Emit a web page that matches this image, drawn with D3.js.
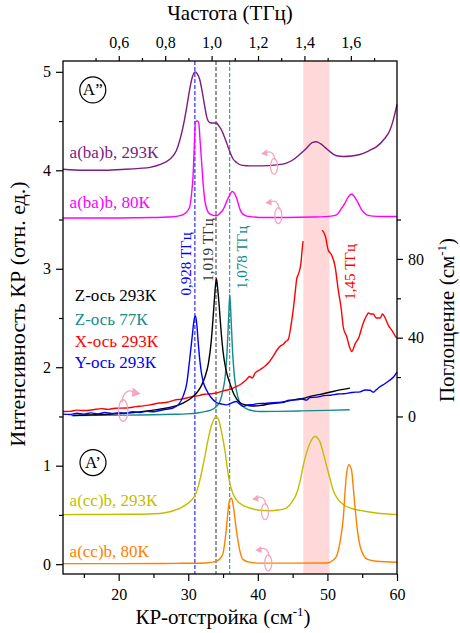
<!DOCTYPE html>
<html>
<head>
<meta charset="utf-8">
<script src="https://cdn.jsdelivr.net/npm/d3@7"></script>
<style>
  body { margin: 0; background: #fff; }
</style>
</head>
<body>
<div id="chart"></div>
<script>
// spectra, [shift cm-1, value]
// Raman (left axis)
var abb293 = [[12,4.01],[15,4.0],[18,4.0],[21,4.01],[23,4.02],[24.5,4.03],[26,4.06],[27.3,4.11],[28.3,4.2],[29.25,4.44],[29.8,4.65],[30.2,4.82],[30.6,4.95],[31.0,5.0],[31.3,4.98],[31.66,4.92],[32.0,4.8],[32.37,4.65],[32.7,4.53],[33.09,4.485],[33.5,4.48],[34.05,4.48],[34.4,4.45],[34.77,4.41],[35.3,4.32],[35.97,4.19],[36.4,4.12],[36.93,4.08],[37.8,4.05],[38.85,4.045],[40.5,4.045],[42.7,4.055],[44,4.07],[45.08,4.107],[46,4.16],[47,4.225],[47.8,4.28],[48.4,4.29],[49,4.27],[49.7,4.23],[50.36,4.19],[51.2,4.15],[52.27,4.14],[53.5,4.145],[54.67,4.16],[56,4.2],[57.08,4.24],[58.2,4.32],[59,4.41],[59.5,4.52],[60,4.67]];
var abb80 = [[12,3.515],[20,3.515],[25,3.52],[27,3.525],[28.5,3.535],[29.25,3.55],[29.8,3.58],[30.21,3.63],[30.5,3.78],[30.69,3.94],[30.9,4.3],[31.03,4.495],[31.3,4.5],[31.51,4.48],[31.7,4.3],[31.9,4.107],[32.1,3.9],[32.37,3.7],[32.7,3.6],[33.09,3.558],[34.05,3.538],[34.5,3.56],[35.0,3.6],[35.5,3.68],[35.97,3.75],[36.3,3.785],[36.6,3.77],[37.03,3.7],[37.35,3.62],[37.65,3.572],[38.2,3.54],[38.85,3.53],[41,3.52],[44,3.52],[48,3.525],[50.5,3.535],[51.32,3.548],[51.9,3.6],[52.52,3.667],[53.0,3.73],[53.48,3.76],[53.9,3.73],[54.43,3.667],[54.9,3.6],[55.64,3.548],[56.5,3.535],[58,3.53],[60,3.53]];
var acc293 = [[12,0.503],[18,0.505],[22,0.507],[25.9,0.515],[27.5,0.535],[28.3,0.553],[29.0,0.575],[29.7,0.604],[30.4,0.645],[30.9,0.688],[31.4,0.78],[31.9,0.926],[32.4,1.1],[32.85,1.264],[33.3,1.4],[33.67,1.467],[34.05,1.5],[34.5,1.434],[34.9,1.3],[35.25,1.162],[35.6,0.98],[35.97,0.824],[36.4,0.72],[36.9,0.655],[37.8,0.6],[38.85,0.57],[40.2,0.548],[41.7,0.543],[43,0.55],[44.1,0.57],[44.9,0.63],[45.6,0.723],[46.1,0.85],[46.5,0.993],[47.0,1.13],[47.5,1.23],[48.2,1.297],[48.9,1.247],[49.4,1.13],[49.9,0.993],[50.4,0.86],[50.8,0.756],[51.5,0.66],[52.3,0.604],[53.5,0.565],[54.7,0.546],[57,0.52],[60,0.503]];
var acc80 = [[12,0.005],[20,0.005],[28,0.008],[32.6,0.012],[33.5,0.02],[34.05,0.03],[34.6,0.06],[35.0,0.11],[35.25,0.22],[35.5,0.38],[35.75,0.56],[35.97,0.655],[36.2,0.672],[36.35,0.64],[36.55,0.553],[36.85,0.38],[37.2,0.215],[37.5,0.11],[37.9,0.046],[38.8,0.02],[40.3,0.01],[45,0.01],[49.9,0.012],[50.8,0.04],[51.3,0.08],[51.8,0.22],[52.3,0.485],[52.55,0.75],[52.76,0.926],[53.1,1.01],[53.3,0.99],[53.5,0.942],[53.75,0.75],[54.0,0.553],[54.3,0.35],[54.7,0.18],[55.2,0.09],[55.7,0.05],[57,0.03],[60,0.02]];

// absorption (right axis, cm-1)
var z293 = [[13.4,0.5],[16,0.8],[19,1.2],[21.1,1.7],[23.5,2.5],[25.9,3.7],[27.8,5.0],[29.25,6.8],[30.3,9],[31.2,11.9],[31.8,15],[32.4,20],[32.9,27],[33.3,38],[33.65,54],[33.9,66],[34.05,70],[34.2,66],[34.45,56],[34.75,42],[35.0,33],[35.4,24],[35.97,17],[36.6,11],[37.4,7.1],[38.3,5.8],[39.3,5.3],[40.5,5.6],[41.5,6.3],[42.7,6.8],[44,7.6],[45.5,8.7],[46.5,9.1],[47.5,10.2],[49,11.2],[50.8,12.7],[52,13.6],[53.24,14.4]];
var z77 = [[13.2,0.5],[17,0.6],[21.1,0.7],[25,0.9],[28,1.1],[29.7,1.3],[31.5,1.9],[32.6,2.6],[33.4,3.5],[34.05,5.1],[34.6,8],[35.0,13.6],[35.3,20],[35.55,31],[35.8,50],[35.97,62],[36.15,50],[36.4,31],[36.65,20],[36.9,13.6],[37.3,8],[37.9,5.1],[38.8,3.3],[40.3,2.5],[43,2.6],[46,2.8],[50,3.1],[53.2,3.4]];
var xAx293a = [[12,2.5],[13,2.6],[14,3.2],[15,3.0],[16.3,3.4],[17.5,4.0],[18.5,3.6],[19.5,4.2],[21.1,4.3],[22.5,5.0],[23.5,5.4],[24.5,5.9],[25.9,6.8],[27,7.2],[28,8.3],[29,8.8],[30,9.6],[30.7,10.2],[31.5,10.6],[32.3,11.3],[33,11.4],[34.05,11.9],[35,13],[36,13.8],[36.9,15.2],[37.6,16.5],[38.3,18.5],[38.85,20.3],[39.2,19.5],[39.6,22],[40.3,23.7],[41,25.5],[41.6,27.5],[42.2,30.5],[42.8,34],[43.3,36],[43.6,36.5],[44.0,38],[44.36,39],[44.8,47],[45.08,54],[45.4,64],[45.57,69.5],[45.9,73],[46.2,78],[46.35,84],[46.5,89]];
var xAx293b = [[49.25,94.5],[49.7,91.6],[50.1,84.7],[50.6,82],[51.1,76.2],[51.55,64.4],[52.0,54.2],[52.3,45],[52.76,40.7],[53.2,35],[53.5,33],[54.0,37],[54.5,40],[55.15,47.5],[55.6,51],[55.9,52.5],[56.3,52],[56.6,52],[57.0,50],[57.6,50],[57.9,52],[58.3,50],[58.8,46],[59.2,44],[59.5,42.4],[59.8,40.5],[60,40]];
var y293 = [[12,1.2],[13,1.0],[14,1.6],[15,1.2],[16,1.8],[17,1.3],[18,2.0],[19,1.5],[20,1.9],[21,1.6],[22,2.4],[23,2.0],[24,2.6],[25,2.4],[25.9,3.0],[26.8,3.6],[27.8,4.3],[28.6,6.0],[29.25,10.2],[29.8,17],[30.2,28.8],[30.55,40],[30.84,49],[31.05,51],[31.25,46],[31.4,39],[31.65,29],[31.9,22],[32.2,17],[32.6,13.6],[33.2,10],[34.05,7.1],[34.8,6.3],[35.5,5.9],[36.2,6.8],[36.9,7.6],[37.4,6.2],[37.9,5.1],[38.6,5.8],[39.3,6.0],[40,6.5],[41,6.6],[42.7,7.1],[43.5,7.0],[44.5,8.2],[45.5,8.4],[46.3,8.9],[47.0,8.3],[47.5,9.6],[48.5,9.8],[49.5,10.6],[50.5,10.8],[51.5,11.4],[52.3,11.5],[53.5,12.2],[54.7,12.5],[55.4,13.4],[56.1,13.3],[56.6,12.3],[57,13.5],[57.6,15.2],[58.2,16.5],[58.8,18.0],[59.5,20],[60,22.5]];

// tick values
var xTicks = [20, 30, 40, 50, 60], xMinor = [15, 25, 35, 45, 55];
var topTicks = [0.6, 0.8, 1.0, 1.2, 1.4, 1.6], topMinor = [0.5, 0.7, 0.9, 1.1, 1.3, 1.5, 1.7];
var yTicks = [0, 1, 2, 3, 4, 5], yMinor = [0.5, 1.5, 2.5, 3.5, 4.5];
var rTicks = [0, 40, 80], rMinor = [20, 60, 100];

// marked frequencies (THz) and the band
var freqMarks = [0.928, 1.019, 1.078];
var freqLabels = ["0,928 ТГц", "1,019 ТГц", "1,078 ТГц"];
var freqColors = ["#0000ff", "#333333", "#0f8c8c"];
var band = [1.395, 1.508];

var cm2thz = 33.356;
var font = "'Liberation Serif', 'DejaVu Serif', serif";

var margin = {top: 61, right: 63, bottom: 59, left: 63},
    width = 460 - margin.left - margin.right,
    height = 633 - margin.top - margin.bottom;

var root = d3.select("#chart")
  .append("svg")
    .attr("width", 460)
    .attr("height", 633)
    .style("font-family", font);
var svg = root.append("g")
    .attr("transform", "translate(" + margin.left + "," + margin.top + ")");

var x = d3.scaleLinear().domain([12, 60]).range([0, width]);
var xTop = d3.scaleLinear().domain([12 / cm2thz, 60 / cm2thz]).range([0, width]);
var y = d3.scaleLinear().domain([-0.1, 5.11]).range([height, 0]);
var yR = d3.scaleLinear().domain([-80, 180.5]).range([height, 0]);

// pink band
svg.append("rect")
  .attr("x", xTop(band[0]))
  .attr("y", 0)
  .attr("width", xTop(band[1]) - xTop(band[0]))
  .attr("height", height)
  .attr("fill", "#ffd9d9");

// dashed frequency markers
freqMarks.forEach(function(f, i) {
  svg.append("line")
    .attr("x1", xTop(f)).attr("x2", xTop(f))
    .attr("y1", 0).attr("y2", height)
    .attr("stroke", freqColors[i])
    .attr("stroke-width", 1)
    .attr("stroke-dasharray", "4,2");
});

var lineL = d3.line().x(function(d) { return x(d[0]); }).y(function(d) { return y(d[1]); }).curve(d3.curveMonotoneX);
var lineR = d3.line().x(function(d) { return x(d[0]); }).y(function(d) { return yR(d[1]); }).curve(d3.curveMonotoneX);

function drawLine(data, gen, color) {
  svg.append("path")
    .datum(data)
    .attr("fill", "none")
    .attr("stroke", color)
    .attr("stroke-width", 1.4)
    .attr("stroke-linejoin", "round")
    .attr("d", gen);
}

drawLine(abb293, lineL, "#7f1a7f");
drawLine(abb80, lineL, "#ff00ff");
drawLine(z77, lineR, "#168a8a");
drawLine(xAx293a, lineR, "#ff0000");
drawLine(xAx293b, lineR, "#ff0000");
drawLine(z293, lineR, "#000000");
drawLine(y293, lineR, "#0000ff");
drawLine(acc293, lineL, "#c2bd00");
drawLine(acc80, lineL, "#ff8000");

// axes
function styleAxis(g) {
  g.select(".domain").remove();
  g.attr("font-family", null).attr("font-size", 16);
  g.selectAll("text").attr("fill", "#000");
  g.selectAll("line").attr("stroke", "#000").attr("stroke-width", 1.2);
}
var fmt = function(d) { return d3.format(".1f")(d).replace(".", ","); };

svg.append("g").attr("transform", "translate(0," + height + ")")
  .call(d3.axisBottom(x).tickValues(xTicks).tickSize(7).tickPadding(8).tickFormat(d3.format("d"))).call(styleAxis);
svg.append("g").attr("transform", "translate(0," + height + ")")
  .call(d3.axisBottom(x).tickValues(xMinor).tickSize(4).tickFormat("")).call(styleAxis);

svg.append("g")
  .call(d3.axisTop(xTop).tickValues(topTicks).tickSize(5).tickPadding(8).tickFormat(fmt)).call(styleAxis);
svg.append("g")
  .call(d3.axisTop(xTop).tickValues(topMinor).tickSize(3).tickFormat("")).call(styleAxis);

svg.append("g")
  .call(d3.axisLeft(y).tickValues(yTicks).tickSize(7).tickPadding(5).tickFormat(d3.format("d"))).call(styleAxis);
svg.append("g")
  .call(d3.axisLeft(y).tickValues(yMinor).tickSize(4).tickFormat("")).call(styleAxis);

svg.append("g").attr("transform", "translate(" + width + ",0)")
  .call(d3.axisRight(yR).tickValues(rTicks).tickSize(6).tickPadding(5).tickFormat(d3.format("d"))).call(styleAxis);
svg.append("g").attr("transform", "translate(" + width + ",0)")
  .call(d3.axisRight(yR).tickValues(rMinor).tickSize(4).tickFormat("")).call(styleAxis);

// frame
svg.append("rect")
  .attr("width", width).attr("height", height)
  .attr("fill", "none").attr("stroke", "#000").attr("stroke-width", 1.3);

// axis titles
root.append("text")
  .attr("x", 230).attr("y", 20)
  .attr("text-anchor", "middle").attr("font-size", 21)
  .text("Частота (ТГц)");

var bt = root.append("text")
  .attr("x", 223).attr("y", 624)
  .attr("text-anchor", "middle").attr("font-size", 21)
  .text("КР-отстройка (см");
bt.append("tspan").attr("font-size", 13).attr("dy", -8).text("-1");
bt.append("tspan").attr("dy", 8).text(")");

root.append("text")
  .attr("transform", "translate(25,314) rotate(-90)")
  .attr("text-anchor", "middle").attr("font-size", 22)
  .text("Интенсивность КР (отн. ед.)");

var rt = root.append("text")
  .attr("transform", "translate(454,320) rotate(-90)")
  .attr("text-anchor", "middle").attr("font-size", 21)
  .text("Поглощение (см");
rt.append("tspan").attr("font-size", 13).attr("dy", -8).text("-1");
rt.append("tspan").attr("dy", 8).text(")");

// series labels
var labels = [
  {t: "a(ba)b, 293К", c: "#7f1a7f", x: 12.95, y: 4.126},
  {t: "a(ba)b, 80К", c: "#ff00ff", x: 12.95, y: 3.618},
  {t: "Z-ось 293К", c: "#000000", x: 13.7, y: 2.673},
  {t: "Z-ось 77К", c: "#168a8a", x: 13.7, y: 2.429},
  {t: "X-ось 293К", c: "#ff0000", x: 13.7, y: 2.21},
  {t: "Y-ось 293К", c: "#0000ff", x: 13.7, y: 1.992},
  {t: "a(cc)b, 293К", c: "#c2bd00", x: 12.95, y: 0.589},
  {t: "a(cc)b, 80К", c: "#ff8000", x: 12.95, y: 0.071}
];
labels.forEach(function(l) {
  svg.append("text")
    .attr("x", x(l.x)).attr("y", y(l.y))
    .attr("font-size", 17).attr("fill", l.c)
    .text(l.t);
});

// rotated frequency labels
var freqLabelPos = [{dx: -8.6, y: 3.049}, {dx: -8.3, y: 3.191}, {dx: 12.2, y: 3.115}];
freqMarks.forEach(function(f, i) {
  svg.append("text")
    .attr("transform", "translate(" + (xTop(f) + freqLabelPos[i].dx) + "," + y(freqLabelPos[i].y) + ") rotate(-90)")
    .attr("text-anchor", "middle").attr("dominant-baseline", "central")
    .attr("font-size", 15).attr("fill", freqColors[i])
    .text(freqLabels[i]);
});
svg.append("text")
  .attr("transform", "translate(" + (xTop(1.45) + 33.5) + "," + y(2.968) + ") rotate(-90)")
  .attr("text-anchor", "middle").attr("dominant-baseline", "central")
  .attr("font-size", 15).attr("fill", "#ff0000")
  .text("1,45 ТГц");

// circled symmetry labels
[{t: "A\u201D", x: 16.28, y: 4.816}, {t: "A\u2019", x: 16.31, y: 1.032}].forEach(function(c) {
  svg.append("circle")
    .attr("cx", x(c.x)).attr("cy", y(c.y)).attr("r", 13)
    .attr("fill", "none").attr("stroke", "#000").attr("stroke-width", 1.2);
  svg.append("text")
    .attr("x", x(c.x)).attr("y", y(c.y))
    .attr("text-anchor", "middle").attr("dominant-baseline", "central")
    .attr("font-size", 17)
    .text(c.t);
});

// pink axis pointers
var pointers = [
  {x: 42.33, y: 4.04, dir: 1, s: 1},
  {x: 42.94, y: 3.54, dir: 1, s: 1},
  {x: 41.03, y: 0.533, dir: 1, s: 1},
  {x: 41.5, y: 0.012, dir: 1, s: 1},
  {x: 20.65, y: 1.56, dir: -1, s: 1.35}
];
pointers.forEach(function(p) {
  var g = svg.append("g")
    .attr("transform", "translate(" + x(p.x) + "," + y(p.y) + ") scale(" + (p.dir * p.s) + "," + p.s + ")");
  g.append("ellipse")
    .attr("rx", 3.5).attr("ry", 8)
    .attr("fill", "none").attr("stroke", "#f4a6bd").attr("stroke-width", 1.3 / p.s);
  g.append("path")
    .attr("d", "M1,-6 C0,-15 -5,-15.5 -8,-13.5")
    .attr("fill", "none").attr("stroke", "#f4a6bd").attr("stroke-width", 1.3 / p.s);
  g.append("path")
    .attr("d", "M-13,-12.5 L-7,-17 L-6.5,-10 Z")
    .attr("fill", "#f4a6bd");
});
</script>
</body>
</html>
